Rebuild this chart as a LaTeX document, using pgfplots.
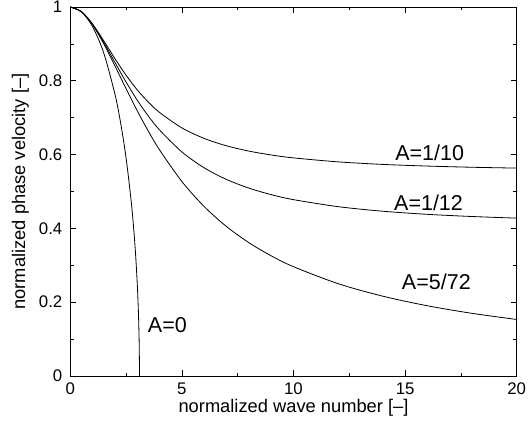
\documentclass[border=0pt]{standalone}
\usepackage{fontspec}
\setmainfont{Liberation Sans}
\usepackage{pgfplots}
\pgfplotsset{compat=1.18}

\begin{document}
\begin{tikzpicture}
\begin{axis}[
    scale only axis,
    width=446.4bp, height=369bp,
    xmin=0, xmax=20, ymin=0, ymax=1,
    xtick={0,5,10,15,20},
    ytick={0,0.2,0.4,0.6,0.8,1},
    yticklabels={0,0.2,0.4,0.6,0.8,1},
    minor x tick num=1, minor y tick num=1,
    tick align=inside,
    major tick length=6bp, minor tick length=3.5bp,
    tick style={black, line width=0.6bp},
    axis line style={line width=0.8bp},
    /pgf/number format/assume math mode=true,
    ticklabel style={font=\fontsize{16.8bp}{18bp}\selectfont},
    yticklabel style={xshift=-4.5bp},
    xticklabel style={yshift=-3.5bp},
    label style={font=\fontsize{18.3bp}{20bp}\selectfont},
    xlabel={normalized wave number [–]},
    ylabel={normalized phase velocity [–]},
    xlabel style={at={(axis description cs:0.5,-0.0867)}, anchor=center},
    ylabel style={at={(axis description cs:-0.112,0.5)}, anchor=center},
]

% A=0
\addplot[black, line width=0.8bp, smooth] coordinates {
    (0,1) (0.5,0.9869) (1,0.9465) (1.5,0.875) (2,0.7638) (2.25,0.6875)
    (2.5,0.5907) (2.75,0.4607) (2.9,0.3521) (3,0.25) (3.05,0.176)
    (3.08,0.1088) (3.095,0.047) (3.098,0)
};

% A=1/10
\addplot[black, line width=0.8bp, smooth] coordinates {
    (0,1) (0.5,0.9874) (1,0.9537) (1.5,0.9082) (2,0.8601) (2.5,0.8150)
    (3,0.7754) (3.5,0.7420) (4,0.7142) (5,0.6724) (6,0.6438) (7,0.6238)
    (8,0.6095) (9,0.5990) (10,0.5911) (12,0.5803) (14,0.5734) (16,0.5689)
    (18,0.5657) (20,0.5634)
};

% A=1/12
\addplot[black, line width=0.8bp, smooth] coordinates {
    (0,1) (0.5,0.9873) (1,0.9526) (1.5,0.9039) (2,0.8498) (2.5,0.7966)
    (3,0.7475) (3.5,0.7042) (4,0.6667) (5,0.6072) (6,0.5641) (7,0.5326)
    (8,0.5092) (9,0.4915) (10,0.4779) (12,0.4589) (14,0.4465) (16,0.4381)
    (18,0.4322) (20,0.4278)
};

% A=5/72
\addplot[black, line width=0.8bp, smooth] coordinates {
    (0,1) (0.5,0.9873) (1,0.9517) (1.5,0.9002) (2,0.8404) (2.5,0.7785)
    (3,0.7187) (3.5,0.6631) (4,0.6127) (5,0.5270) (6,0.4591) (7,0.4050)
    (8,0.3614) (9,0.3257) (10,0.2962) (12,0.2502) (14,0.2163) (16,0.1903)
    (18,0.1698) (20,0.1532)
};

\node[font=\fontsize{21.5bp}{23bp}\selectfont] at (axis cs:16.1,0.606) {A=1/10};
\node[font=\fontsize{21.5bp}{23bp}\selectfont] at (axis cs:16.05,0.470) {A=1/12};
\node[font=\fontsize{21.5bp}{23bp}\selectfont] at (axis cs:16.4,0.256) {A=5/72};
\node[font=\fontsize{21.5bp}{23bp}\selectfont] at (axis cs:4.35,0.138) {A=0};

\coordinate (bl) at (rel axis cs:0,0);
\coordinate (tr) at (rel axis cs:1,1);
\end{axis}
\pgfresetboundingbox
\path[use as bounding box] ([xshift=-70.3bp,yshift=-53bp]bl) rectangle ([xshift=15.3bp,yshift=7bp]tr);
\end{tikzpicture}
\end{document}
